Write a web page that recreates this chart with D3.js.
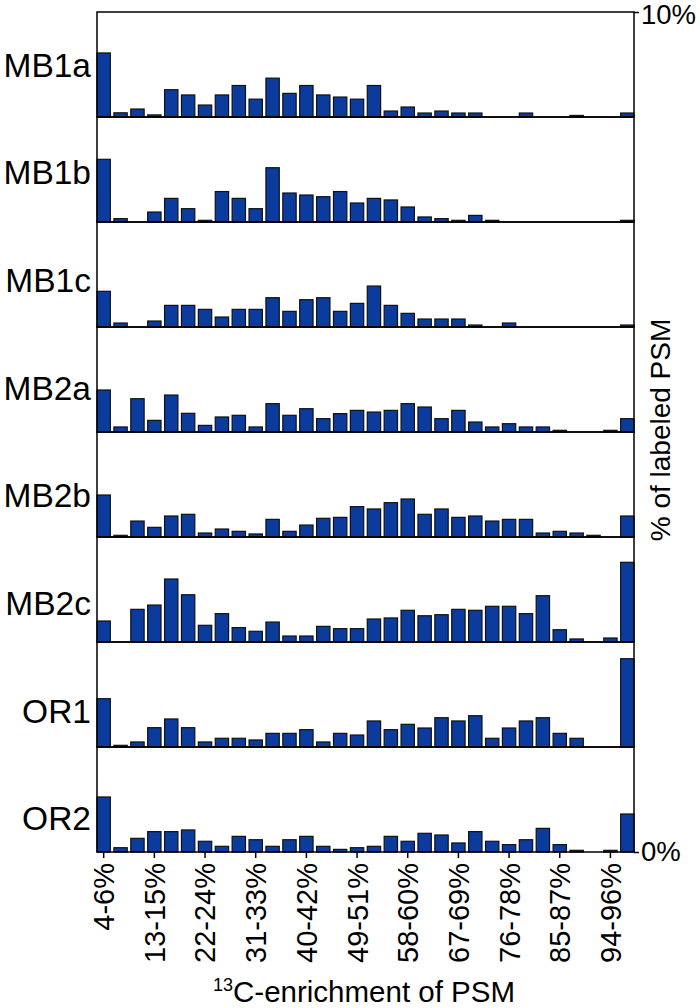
<!DOCTYPE html>
<html>
<head>
<meta charset="utf-8">
<script src="https://cdn.jsdelivr.net/npm/d3@7/dist/d3.min.js"></script>
<style>
  body { margin: 0; background: #fff; }
  svg { display: block; font-family: "Liberation Sans", Arial, Helvetica, sans-serif; }
</style>
</head>
<body>
<svg id="chart" width="700" height="1008"></svg>
<script>
// ---- data ----
const categories = ["4-6%","7-9%","10-12%","13-15%","16-18%","19-21%","22-24%","25-27%","28-30%","31-33%",
  "34-36%","37-39%","40-42%","43-45%","46-48%","49-51%","52-54%","55-57%","58-60%","61-63%",
  "64-66%","67-69%","70-72%","73-75%","76-78%","79-81%","82-84%","85-87%","88-90%","91-93%",
  "94-96%","97-99%"];
const samples = ["MB1a","MB1b","MB1c","MB2a","MB2b","MB2c","OR1","OR2"];
const MB1a = [6.1,0.4,0.76,0.2,2.6,2.1,1.14,2.1,3.0,1.7,3.7,2.25,3.0,2.1,1.9,1.7,3.0,0.57,0.95,0.38,0.57,0.38,0.38,0,0,0.38,0,0,0.15,0,0,0.38];
const MB1b = [5.97,0.32,0,0.95,2.25,1.27,0.16,2.9,2.25,1.27,5.17,2.76,2.57,2.41,2.9,1.81,2.25,2.1,1.43,0.48,0.32,0.16,0.63,0.16,0,0,0,0,0,0,0,0.16];
const MB1c = [3.4,0.38,0,0.57,2.06,2.06,1.68,0.95,1.68,1.68,2.79,1.49,2.6,2.79,1.49,2.25,3.9,2.06,1.3,0.76,0.76,0.76,0.19,0,0.38,0,0,0,0,0,0,0.19];
const MB2a = [4.0,0.48,3.17,1.11,3.52,1.78,0.63,1.43,1.59,0.48,2.7,1.59,2.22,1.27,1.75,2.06,1.9,2.06,2.7,2.38,1.27,2.06,0.95,0.48,0.79,0.48,0.48,0.16,0,0,0.16,1.27];
const MB2b = [4.0,0.16,1.52,0.92,2.0,2.16,0.38,0.76,0.54,0.29,1.68,0.54,1.14,1.78,1.87,2.89,2.67,3.27,3.62,2.16,2.67,1.87,2.0,1.52,1.68,1.68,0.38,0.54,0.38,0.16,0,2.0];
const MB2c = [2.0,0,3.11,3.52,6.0,4.5,1.59,2.7,1.37,1.02,1.9,0.57,0.57,1.49,1.27,1.27,2.19,2.29,3.02,2.5,2.6,3.11,3.02,3.4,3.4,2.7,4.41,1.17,0.29,0,0.38,7.59];
const OR1  = [4.6,0.16,0.48,1.84,2.67,1.84,0.48,0.83,0.83,0.67,1.3,1.3,1.65,0.48,1.3,1.14,2.48,1.65,2.16,1.81,2.79,2.48,2.98,0.83,1.81,2.48,2.79,1.3,0.83,0,0,8.41];
const OR2  = [5.24,0.41,1.3,1.94,1.94,2.1,1.02,0.54,1.49,1.17,0.54,1.17,1.49,0.54,0.25,0.41,0.54,1.49,1.02,1.78,1.62,0.86,1.94,1.02,0.70,1.17,2.25,0.70,0.16,0,0.16,3.62];
const seriesValues = [MB1a, MB1b, MB1c, MB2a, MB2b, MB2c, OR1, OR2];
const yDomain = [0, 10];
const yTickLabels = ["0%", "10%"];
const tickEvery = 3;
const xTitleSup = "13";
const xTitleMain = "C-enrichment of PSM";
const yTitle = "% of labeled PSM";

// ---- layout ----
const svg = d3.select("#chart");
const plotLeft = 97, plotRight = 634, plotTop = 12, panelH = 105;
const plotBottom = plotTop + panelH * samples.length;
const barFill = "#0b3c9d";

const x = d3.scaleBand().domain(categories).range([plotLeft, plotRight]).paddingInner(0.21).paddingOuter(0);
const y = d3.scaleLinear().domain(yDomain).range([panelH, 0]);

samples.forEach((name, i) => {
  const g = svg.append("g").attr("transform", `translate(0,${plotTop + i * panelH})`);
  const data = categories.map((c, j) => ({ c, v: seriesValues[i][j] }));
  g.selectAll("rect.bar")
    .data(data.filter(d => d.v > 0))
    .join("rect")
    .attr("class", "bar")
    .attr("x", d => x(d.c))
    .attr("width", x.bandwidth())
    .attr("y", d => y(d.v))
    .attr("height", d => y(0) - y(d.v))
    .attr("fill", barFill)
    .attr("stroke", "#111")
    .attr("stroke-width", 1.2);
  g.append("rect")
    .attr("x", plotLeft).attr("y", 0)
    .attr("width", plotRight - plotLeft).attr("height", panelH)
    .attr("fill", "none").attr("stroke", "#000").attr("stroke-width", 1.5);
  svg.append("text")
    .attr("x", 91)
    .attr("y", 65 + i * 107.7)
    .attr("text-anchor", "end")
    .attr("dominant-baseline", "central")
    .attr("font-size", 33.5)
    .text(name);
});

// right y axis (0% bottom, 10% top of stack)
const yStack = d3.scaleLinear().domain(yDomain).range([plotBottom, plotTop]);
const yAxis = d3.axisRight(yStack).tickValues(yDomain).tickSize(5)
  .tickFormat((d, k) => yTickLabels[k]);
const ya = svg.append("g").attr("transform", `translate(${plotRight},0)`).call(yAxis);
ya.select(".domain").remove();
ya.selectAll("line").attr("stroke", "#000").attr("stroke-width", 1.5);
ya.selectAll("text").attr("font-size", 27.5).attr("x", 7).attr("fill", "#000")
  .attr("dy", (d) => d === yDomain[1] ? "0.40em" : "0.32em")
  .attr("font-family", "Liberation Sans, Arial, sans-serif");

// bottom x axis
const xAxis = d3.axisBottom(x)
  .tickValues(categories.filter((c, j) => j % tickEvery === 0))
  .tickSize(6);
const xa = svg.append("g").attr("transform", `translate(0,${plotBottom})`).call(xAxis);
xa.select(".domain").remove();
xa.selectAll("line").attr("stroke", "#000").attr("stroke-width", 1.5);
xa.selectAll("text")
  .attr("font-size", 29)
  .attr("font-family", "Liberation Sans, Arial, sans-serif")
  .attr("fill", "#000")
  .attr("transform", "rotate(-90)")
  .attr("text-anchor", "end")
  .attr("x", -11)
  .attr("y", 0)
  .attr("dy", "0.36em");

// x title
const xt = svg.append("text")
  .attr("x", 364).attr("y", 1002)
  .attr("text-anchor", "middle")
  .attr("font-size", 29.5);
xt.append("tspan").attr("font-size", 18).attr("dy", -11).text(xTitleSup);
xt.append("tspan").attr("dy", 11).text(xTitleMain);

// y title (right)
svg.append("text")
  .attr("transform", "translate(670,430) rotate(-90)")
  .attr("text-anchor", "middle")
  .attr("font-size", 28)
  .text(yTitle);
</script>
</body>
</html>
